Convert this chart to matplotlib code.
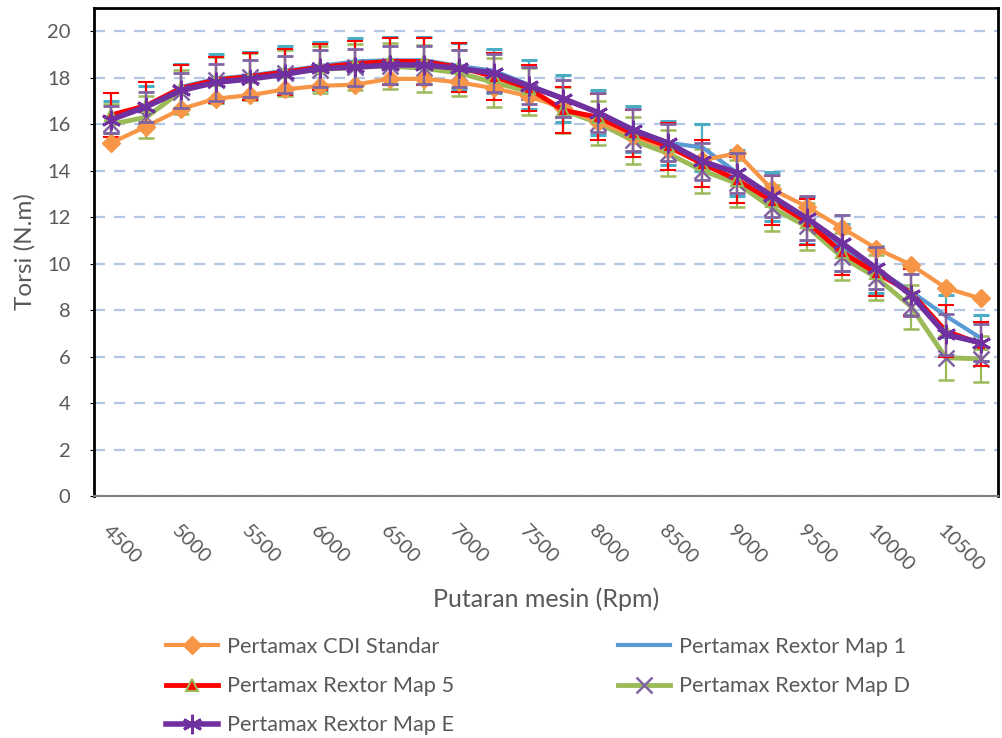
import numpy as np
import matplotlib.pyplot as plt
from matplotlib.lines import Line2D

# data (torsi, N.m)
rpm = [4500, 4750, 5000, 5250, 5500, 5750, 6000, 6250, 6500, 6750, 7000, 7250, 7500,
       7750, 8000, 8250, 8500, 8750, 9000, 9250, 9500, 9750, 10000, 10250, 10500, 10750]

cdi_standar = [15.2, 15.9, 16.65, 17.1, 17.25, 17.5, 17.65, 17.7, 17.95, 17.95, 17.8, 17.55, 17.2,
               16.7, 16.1, 15.5, 14.95, 14.45, 14.75, 13.2, 12.45, 11.55, 10.65, 9.95, 8.95, 8.5]
map_1 = [16.3, 16.75, 17.6, 17.95, 18.1, 18.3, 18.5, 18.7, 18.75, 18.75, 18.5, 18.3, 17.7,
         17.1, 16.5, 15.8, 15.2, 15.0, 13.9, 12.9, 11.85, 10.7, 9.75, 8.8, 7.75, 6.8]
map_5 = [16.4, 16.8, 17.55, 17.9, 18.05, 18.25, 18.45, 18.6, 18.7, 18.7, 18.45, 18.05, 17.55,
         16.6, 16.3, 15.6, 15.05, 14.3, 13.6, 12.7, 11.8, 10.5, 9.6, 8.75, 7.1, 6.55]
map_d = [16.0, 16.3, 17.4, 17.9, 18.05, 18.2, 18.35, 18.45, 18.5, 18.4, 18.2, 17.8, 17.4,
         16.6, 16.05, 15.3, 14.75, 14.0, 13.45, 12.4, 11.6, 10.3, 9.4, 8.15, 5.95, 5.9]
map_e = [16.2, 16.75, 17.45, 17.8, 17.95, 18.15, 18.4, 18.45, 18.55, 18.55, 18.4, 18.2, 17.65,
         17.1, 16.5, 15.75, 15.2, 14.4, 13.9, 12.9, 11.95, 10.9, 9.8, 8.65, 6.95, 6.6]

# error bars
err_1 = [0.7, 0.9, 1.0, 1.05, 1.0, 1.05, 1.05, 1.0, 1.0, 1.0, 1.0, 0.95, 1.05,
         1.0, 0.95, 1.0, 0.95, 1.0, 1.0, 1.05, 1.0, 1.0, 1.0, 1.0, 0.9, 1.0]
err_5 = [0.95, 1.0, 1.0, 1.0, 1.0, 1.0, 1.0, 1.0, 1.0, 1.0, 1.05, 1.0, 1.0,
         1.0, 1.0, 1.0, 1.0, 1.0, 1.0, 1.05, 1.0, 1.0, 1.0, 1.0, 1.1, 0.95]
err_d = [0.85, 0.9, 0.95, 1.0, 1.0, 1.0, 1.0, 1.0, 1.0, 1.0, 1.0, 1.05, 1.0,
         1.0, 0.95, 1.0, 1.0, 0.95, 1.0, 1.0, 1.0, 1.0, 0.95, 0.95, 0.95, 1.0]
err_e = [0.6, 0.65, 0.75, 0.8, 0.8, 0.8, 0.8, 0.8, 0.8, 0.8, 0.8, 0.8, 0.8,
         0.8, 0.85, 0.9, 0.8, 0.8, 0.85, 0.9, 0.95, 1.2, 0.9, 0.9, 0.9, 0.8]

labels = ['Pertamax CDI Standar', 'Pertamax Rextor Map 1', 'Pertamax Rextor Map 5',
          'Pertamax Rextor Map D', 'Pertamax Rextor Map E']

plt.rcParams['font.family'] = ['Lato', 'DejaVu Sans']
txt = '#595959'

fig = plt.figure(figsize=(10.02, 7.38), dpi=100)
ax = fig.add_axes([94 / 1002, 1 - 496 / 738, 904 / 1002, 488 / 738])

x = np.arange(len(rpm))
ek = dict(capsize=6, elinewidth=1.6, capthick=2.2)

# gaya garis per seri
st_1 = dict(color='#5B9BD5', lw=3)
st_5 = dict(color='#FF0000', lw=3.5, marker='^', ms=8, mfc='#FF0000', mec='#9BBB59', mew=1.5)
st_d = dict(color='#9BBB59', lw=3.5, marker='x', ms=11, mew=1.8, mec='#8064A2')
st_e = dict(color='#7030A0', lw=4, marker=(6, 2, 0), ms=14, mew=2, mec='#7030A0')
st_c = dict(color='#F79646', lw=3, marker='D', ms=9)

ax.errorbar(x, map_1, yerr=err_1, ecolor='#4BACC6', **st_1, **ek, zorder=3)
ax.errorbar(x, map_5, yerr=err_5, ecolor='#FF0000', **st_5, **ek, zorder=4)
ax.errorbar(x, map_d, yerr=err_d, ecolor='#9BBB59', **st_d, **ek, zorder=3)
ax.errorbar(x, map_e, yerr=err_e, ecolor='#8064A2', **st_e, **ek, zorder=5)
ax.plot(x, cdi_standar, **st_c, zorder=4)

ax.set_xlim(-0.5, len(rpm) - 0.5)
ax.set_ylim(0, 21)
ax.set_yticks(np.arange(0, 21, 2))
ax.set_xticks(x[::2])
ax.set_xticklabels([str(r) for r in rpm[::2]], rotation=-45, ha='left', va='top',
                   rotation_mode='anchor')
ax.tick_params(axis='x', length=0, pad=19, labelsize=14.3, labelcolor=txt)
ax.tick_params(axis='y', length=3, labelsize=14.5, labelcolor=txt, pad=14)

ax.grid(axis='y', color='#B4C7E7', ls=(0, (5, 4)), lw=1.6)
ax.set_axisbelow(True)
for s in ['left', 'top', 'right']:
    ax.spines[s].set_color('black')
    ax.spines[s].set_linewidth(2)
ax.spines['bottom'].set_color('#7F7F7F')
ax.spines['bottom'].set_linewidth(1.5)

ax.set_xlabel('Putaran mesin (Rpm)', fontsize=18, color=txt, labelpad=9)
ax.set_ylabel('Torsi (N.m)', fontsize=17.5, color=txt, labelpad=8)

handles = [Line2D([], [], **st_c), Line2D([], [], **st_5), Line2D([], [], **st_e),
           Line2D([], [], **st_1), Line2D([], [], **st_d)]
names = [labels[0], labels[2], labels[4], labels[1], labels[3]]
fig.legend(handles, names, loc='upper left', bbox_to_anchor=(166 / 1002, 1 - 637 / 738),
           ncol=2, frameon=False, fontsize=15.7, labelcolor=txt, handlelength=2.4,
           handletextpad=0.4, columnspacing=7.5, labelspacing=0.88, borderpad=0,
           borderaxespad=0)

fig.savefig('out.png', dpi=100)
